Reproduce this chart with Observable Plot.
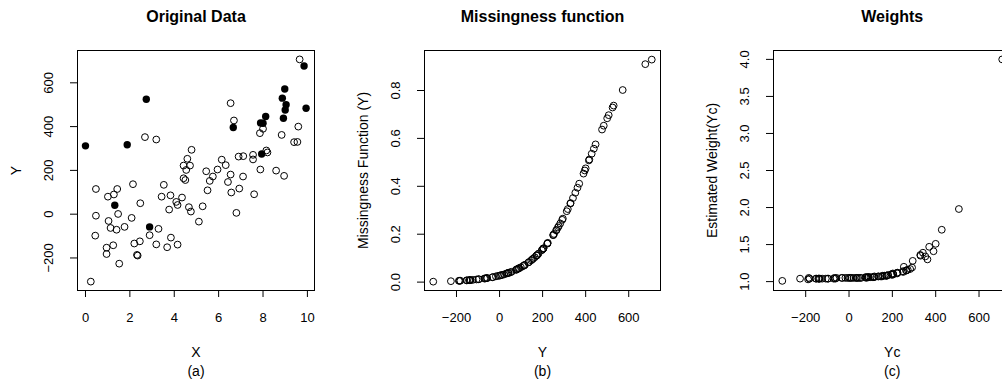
<!DOCTYPE html>
<html>
<head>
<meta charset="utf-8">
<script src="https://cdn.jsdelivr.net/npm/d3@7"></script>
<script src="https://cdn.jsdelivr.net/npm/@observablehq/plot@0.6"></script>
<style>
  html, body { margin: 0; padding: 0; background: white; overflow: hidden; }
  #wrap { position: relative; width: 1002px; height: 385px; overflow: hidden; }
  .panel { position: absolute; top: 0; height: 385px; }
</style>
</head>
<body>
<div id="wrap">
  <div class="panel" id="p1" style="left:0px;width:330px"></div>
  <div class="panel" id="p2" style="left:330px;width:335px"></div>
  <div class="panel" id="p3" style="left:670px;width:345px"></div>
</div>
<script>
// ---- Panel (a): observed (open) and missing (filled) points ----
const openX = [9.65,6.54,6.69,2.68,3.19,8.0,7.86,8.84,9.59,9.4,9.55,8.15,8.2,4.78,4.59,4.42,4.71,4.54,4.42,4.5,
  6.14,6.32,6.9,7.11,7.55,7.55,7.88,8.59,8.95,5.44,5.95,5.74,5.6,6.54,7.1,6.42,5.5,6.57,6.93,7.6,
  6.8,5.28,5.11,3.53,3.43,3.83,4.35,4.09,4.15,3.77,4.66,4.75,3.29,2.89,3.85,3.68,3.19,4.15,0.47,1.43,
  1.28,1.01,2.14,2.47,0.47,1.04,1.47,1.13,1.4,1.76,2.08,0.44,0.95,1.25,0.95,2.2,2.45,2.32,2.35,1.52,0.24];
const openY = [707,507,428,352,341,390,370,362,400,329,330,291,282,294,253,222,222,202,164,156,
  249,224,263,265,271,250,204,199,175,196,204,172,152,181,172,147,109,99,117,91,
  6,36,-34,134,80,86,76,56,42,21,32,12,-67,-96,-107,-151,-138,-139,115,115,
  90,80,137,50,-7,-31,1,-63,-71,-58,-17,-98,-153,-142,-182,-134,-124,-186,-189,-226,-308];
const filledX = [0.0,1.88,2.74,1.32,2.89,6.66,7.89,8.0,8.12,7.94,8.98,8.87,9.04,9.0,8.92,9.85,9.94];
const filledY = [312,317,525,41,-58,396,417,415,446,275,572,530,500,476,438,677,484];

// ---- Panel (b): missingness function ----
const openM = [0.929,0.697,0.536,0.373,0.351,0.453,0.411,0.394,0.475,0.328,0.330,0.260,0.245,0.265,0.201,0.161,0.161,0.139,0.104,0.098,
  0.196,0.164,0.216,0.218,0.228,0.197,0.141,0.136,0.113,0.133,0.141,0.111,0.095,0.119,0.111,0.091,0.067,0.062,0.072,0.058,
  0.029,0.037,0.020,0.082,0.053,0.056,0.051,0.043,0.039,0.032,0.036,0.030,0.015,0.012,0.011,0.0074,0.0083,0.0083,0.070,0.070,
  0.058,0.053,0.084,0.041,0.026,0.021,0.027,0.016,0.015,0.017,0.024,0.012,0.0073,0.0080,0.0057,0.0086,0.0094,0.0055,0.0054,0.0039,0.0019];
const filledM = [0.296,0.305,0.729,0.038,0.017,0.466,0.512,0.508,0.575,0.234,0.802,0.737,0.684,0.637,0.557,0.910,0.653];

// ---- Panel (c): estimated weights for the complete cases ----
const openW = [4.0,1.98,1.70,1.34,1.39,1.41,1.47,1.30,1.51,1.36,1.35,1.19,1.17,1.28,1.20,1.12,1.11,1.11,1.08,1.08,
  1.14,1.12,1.15,1.15,1.16,1.13,1.10,1.09,1.08,1.10,1.10,1.08,1.07,1.09,1.08,1.07,1.06,1.06,1.07,1.06,
  1.05,1.05,1.05,1.07,1.05,1.06,1.06,1.05,1.05,1.05,1.05,1.05,1.05,1.04,1.04,1.04,1.04,1.04,1.06,1.06,
  1.06,1.06,1.07,1.05,1.05,1.05,1.05,1.04,1.04,1.05,1.05,1.04,1.04,1.04,1.04,1.04,1.04,1.05,1.03,1.04,1.01];

// ---- Axis ticks / labels ----
const xTicksA = [0,2,4,6,8,10];
const yTicksA = [-200,0,200,400,600];
const xTicksB = [-200,0,200,400,600];
const yTicksB = [0,0.2,0.4,0.6,0.8];
const xTicksC = [-200,0,200,400,600];
const yTicksC = [1,1.5,2,2.5,3,3.5,4];
const titles = ["Original Data", "Missingness function", "Weights"];
const xLabels = ["X", "Y", "Yc"];
const yLabels = ["Y", "Missingness Function (Y)", "Estimated Weight(Yc)"];
const subLabels = ["(a)", "(b)", "(c)"];

const openA = openX.map((x, i) => ({x, y: openY[i]}));
const filledA = filledX.map((x, i) => ({x, y: filledY[i]}));
const allB = openY.map((y, i) => ({x: y, y: openM[i]})).concat(filledY.map((y, i) => ({x: y, y: filledM[i]})));
const openC = openY.map((y, i) => ({x: y, y: openW[i]}));

const FONT = "'Liberation Sans', Arial, Helvetica, sans-serif";
const fmtNum = d => (d < 0 ? "\u2212" : "") + Math.abs(d);

function panel(cfg) {
  const marks = [
    Plot.frame({stroke: "black", strokeWidth: 1}),
    Plot.axisX(cfg.xTicks, {tickSize: 7, tickFormat: () => "", label: null, stroke: "black"}),
    Plot.axisY(cfg.yTicks, {tickSize: 7, tickFormat: () => "", label: null, stroke: "black"}),
    Plot.text(cfg.xTicks, {x: d => d, text: cfg.xFmt, frameAnchor: "bottom", dy: 27, textAnchor: "middle", lineAnchor: "middle", fontSize: 13, fill: "black"}),
    Plot.text(cfg.yTicks, {y: d => d, text: cfg.yFmt, frameAnchor: "left", dx: -29, rotate: -90, textAnchor: "middle", lineAnchor: "middle", fontSize: 13, fill: "black"}),
    Plot.text([cfg.title], {frameAnchor: "top", dy: -34, text: d => d, fontWeight: "bold", fontSize: 16, textAnchor: "middle", lineAnchor: "middle", fill: "black"}),
    Plot.text([cfg.xLabel], {frameAnchor: "bottom", dy: 62, text: d => d, fontSize: 14, textAnchor: "middle", lineAnchor: "middle", fill: "black"}),
    Plot.text([cfg.sub], {frameAnchor: "bottom", dy: 81, text: d => d, fontSize: 14, textAnchor: "middle", lineAnchor: "middle", fill: "black"}),
    Plot.text([cfg.yLabel], {frameAnchor: "left", dx: -61, rotate: -90, text: d => d, fontSize: 14, textAnchor: "middle", lineAnchor: "middle", fill: "black"}),
    ...cfg.dots
  ];
  return Plot.plot({
    width: cfg.width, height: 385,
    marginLeft: cfg.ml, marginRight: cfg.mr, marginTop: 50, marginBottom: 95,
    x: {domain: cfg.xDomain, axis: null},
    y: {domain: cfg.yDomain, axis: null},
    style: {fontFamily: FONT, fontSize: "13px", color: "black", background: "transparent", overflow: "visible"},
    marks
  });
}

document.getElementById("p1").appendChild(panel({
  width: 330, ml: 77, mr: 16,
  xDomain: [-0.36, 10.32], yDomain: [-348.6, 747.6],
  xTicks: xTicksA, yTicks: yTicksA, xFmt: d => String(d), yFmt: fmtNum,
  title: titles[0], xLabel: xLabels[0], yLabel: yLabels[0], sub: subLabels[0],
  dots: [
    Plot.dot(openA, {x: "x", y: "y", r: 3.4, stroke: "black", strokeWidth: 1, fill: "none"}),
    Plot.dot(filledA, {x: "x", y: "y", r: 3.7, fill: "black", stroke: "none"})
  ]
}));

document.getElementById("p2").appendChild(panel({
  width: 335, ml: 94, mr: 5,
  xDomain: [-348.6, 747.6], yDomain: [-0.035, 0.967],
  xTicks: xTicksB, yTicks: yTicksB, xFmt: fmtNum, yFmt: d => d.toFixed(1),
  title: titles[1], xLabel: xLabels[1], yLabel: yLabels[1], sub: subLabels[1],
  dots: [
    Plot.dot(allB, {x: "x", y: "y", r: 3.4, stroke: "black", strokeWidth: 1, fill: "none"})
  ]
}));

document.getElementById("p3").appendChild(panel({
  width: 345, ml: 103, mr: 4.5,
  xDomain: [-348.6, 747.6], yDomain: [0.88, 4.12],
  xTicks: xTicksC, yTicks: yTicksC, xFmt: fmtNum, yFmt: d => d.toFixed(1),
  title: titles[2], xLabel: xLabels[2], yLabel: yLabels[2], sub: subLabels[2],
  dots: [
    Plot.dot(openC, {x: "x", y: "y", r: 3.4, stroke: "black", strokeWidth: 1, fill: "none"})
  ]
}));
</script>
</body>
</html>
